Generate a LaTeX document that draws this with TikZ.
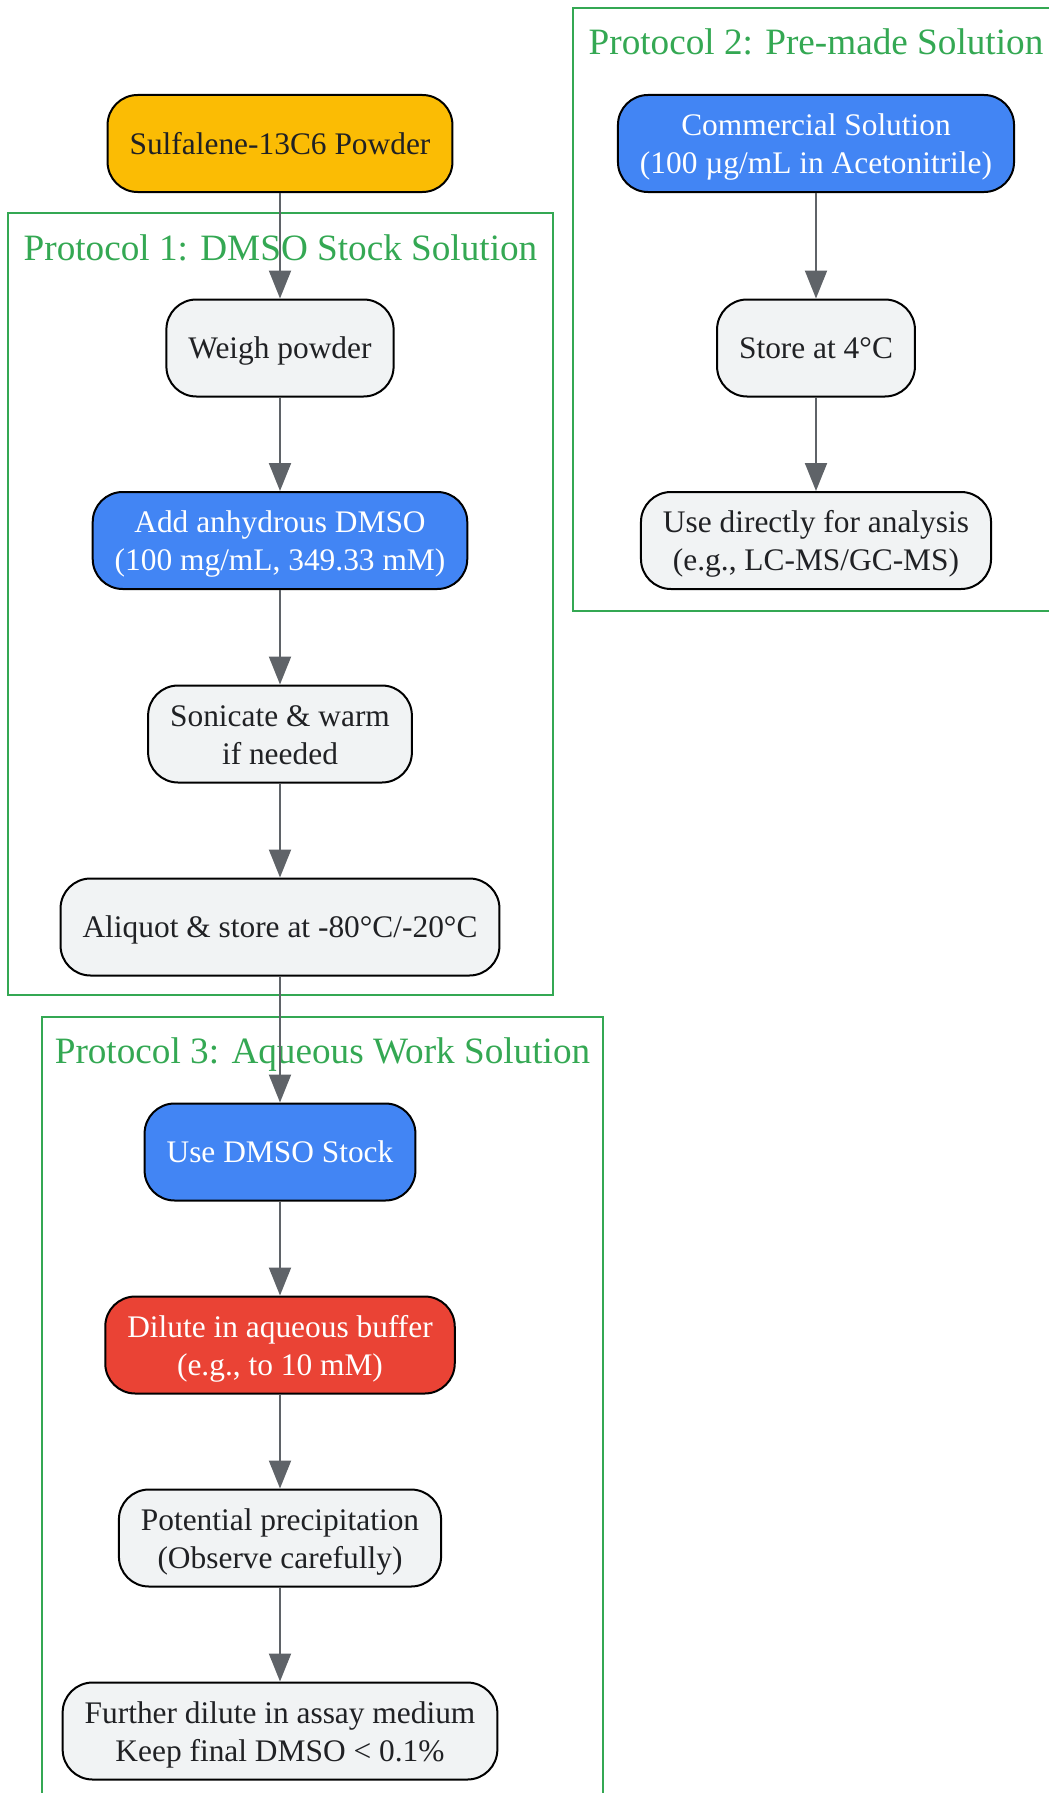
\documentclass[tikz,border=0pt]{standalone}
\usepackage{fontspec}
\setmainfont{Liberation Serif}
\usetikzlibrary{arrows.meta}
\begin{document}
\begin{tikzpicture}[x=0.5pt,y=-0.5pt,
  box/.style={draw=black,line width=1pt,rounded corners=15pt,minimum height=48.5pt,
    inner xsep=11pt,align=center,font=\fontsize{15.7}{19}\selectfont,text=kText,fill=kGrey,
    text height=14.2pt,text depth=3.4pt},
  twoline/.style={text height=33.4pt,text depth=3.4pt},
  flow/.style={-{Triangle[length=14pt,width=11pt]},line width=1pt,color=kArrow},
  frame/.style={draw=kGreen,line width=1pt},
  frametitle/.style={text=kGreen,font=\fontsize{18.6}{22}\selectfont,inner sep=0pt}]
  % colors
  \definecolor{kGreen}{HTML}{34A853}
  \definecolor{kBlue}{HTML}{4285F4}
  \definecolor{kRed}{HTML}{EA4335}
  \definecolor{kYellow}{HTML}{FBBC04}
  \definecolor{kGrey}{HTML}{F1F3F4}
  \definecolor{kArrow}{HTML}{5F6368}
  \definecolor{kText}{HTML}{202124}
  \useasboundingbox (0,0) rectangle (1049,1793);
  \clip (0,0) rectangle (1049,1793);

  % clusters
  \draw[frame] (8,213) rectangle (553,995);
  \node[frametitle] (title1) at (280.5,248) {Protocol 1: DMSO Stock Solution};
  \draw[frame] (573,8) rectangle (1059,611);
  \node[frametitle] (title2) at (816,42) {Protocol 2: Pre-made Solution};
  \draw[frame] (42,1017) rectangle (603,1810);
  \node[frametitle] (title3) at (322.5,1055) {Protocol 3: Aqueous Work Solution};

  % nodes
  \node[box,fill=kYellow] (powder) at (280,143.5) {Sulfalene-13C6 Powder};
  \node[box] (weigh) at (280,348) {Weigh powder};
  \node[box,twoline,fill=kBlue,text=white] (adddmso) at (280,540.5) {Add anhydrous DMSO\\(100 mg/mL, 349.33 mM)};
  \node[box,twoline] (sonicate) at (280,734) {Sonicate \& warm\\if needed};
  \node[box] (aliquot) at (280,927) {Aliquot \& store at -80°C/-20°C};
  \node[box,twoline,fill=kBlue,text=white] (commercial) at (816,143.5) {Commercial Solution\\(100 µg/mL in Acetonitrile)};
  \node[box] (store) at (816,348) {Store at 4°C};
  \node[box,twoline] (direct) at (816,540.5) {Use directly for analysis\\(e.g., LC-MS/GC-MS)};
  \node[box,fill=kBlue,text=white] (stock) at (280,1152) {Use DMSO Stock};
  \node[box,twoline,fill=kRed,text=white] (dilute) at (280,1345) {Dilute in aqueous buffer\\(e.g., to 10 mM)};
  \node[box,twoline] (precip) at (280,1538) {Potential precipitation\\(Observe carefully)};
  \node[box,twoline] (further) at (280,1731) {Further dilute in assay medium\\Keep final DMSO < 0.1\%};

  % edges
  \draw[flow] (powder) -- (weigh);
  \draw[flow] (weigh) -- (adddmso);
  \draw[flow] (adddmso) -- (sonicate);
  \draw[flow] (sonicate) -- (aliquot);
  \draw[flow] (aliquot) -- (stock);
  \draw[flow] (commercial) -- (store);
  \draw[flow] (store) -- (direct);
  \draw[flow] (stock) -- (dilute);
  \draw[flow] (dilute) -- (precip);
  \draw[flow] (precip) -- (further);
\end{tikzpicture}
\end{document}
